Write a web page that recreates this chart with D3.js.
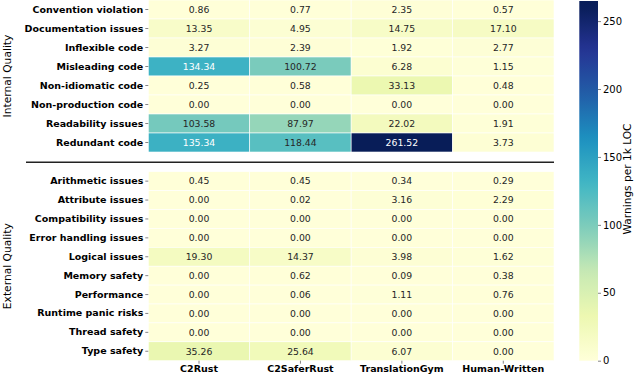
<!DOCTYPE html>
<html><head><meta charset="utf-8">
<script src="https://cdn.jsdelivr.net/npm/d3@7"></script>
<style>body{margin:0;background:#fff}svg{display:block}text{font-family:"DejaVu Sans",sans-serif}</style>
</head><body><svg id="c" width="634" height="375"></svg>
<script>
const tools = ["C2Rust","C2SaferRust","TranslationGym","Human-Written"];
const internalRows = ["Convention violation","Documentation issues","Inflexible code","Misleading code","Non-idiomatic code","Non-production code","Readability issues","Redundant code"];
const internalValues = [
  [0.86,0.77,2.35,0.57],
  [13.35,4.95,14.75,17.10],
  [3.27,2.39,1.92,2.77],
  [134.34,100.72,6.28,1.15],
  [0.25,0.58,33.13,0.48],
  [0.00,0.00,0.00,0.00],
  [103.58,87.97,22.02,1.91],
  [135.34,118.44,261.52,3.73]
];
const externalRows = ["Arithmetic issues","Attribute issues","Compatibility issues","Error handling issues","Logical issues","Memory safety","Performance","Runtime panic risks","Thread safety","Type safety"];
const externalValues = [
  [0.45,0.45,0.34,0.29],
  [0.00,0.02,3.16,2.29],
  [0.00,0.00,0.00,0.00],
  [0.00,0.00,0.00,0.00],
  [19.30,14.37,3.98,1.62],
  [0.00,0.62,0.09,0.38],
  [0.00,0.06,1.11,0.76],
  [0.00,0.00,0.00,0.00],
  [0.00,0.00,0.00,0.00],
  [35.26,25.64,6.07,0.00]
];
const colorbarTicks = [0,50,100,150,200,250];
const groupLabels = ["Internal Quality","External Quality"];
const colorbarLabel = "Warnings per 1k LOC";

const svg = d3.select("#c");
const ylgnbu = ["#ffffd9","#edf8b1","#c7e9b4","#7fcdbb","#41b6c4","#1d91c0","#225ea8","#253494","#081d58"];
const vmax = d3.max([...internalValues, ...externalValues].flat());
const color = d3.scaleLinear().domain(d3.range(9).map(i => i * vmax / 8)).range(ylgnbu).interpolate(d3.interpolateRgb).clamp(true);

function lum(c){
  const r = d3.rgb(c);
  const f = v => { v/=255; return v<=0.03928 ? v/12.92 : Math.pow((v+0.055)/1.055,2.4); };
  return 0.2126*f(r.r)+0.7152*f(r.g)+0.0722*f(r.b);
}

const x = d3.scaleBand().domain(tools).range([148.3, 554]);

function drawBlock(rows, values, y0, y1, label, showX){
  const y = d3.scaleBand().domain(rows).range([y0, y1]);
  const g = svg.append("g");
  rows.forEach((r, i) => {
    tools.forEach((t, j) => {
      const v = values[i][j];
      const c = color(v);
      g.append("rect").attr("x", x(t)).attr("y", y(r)).attr("width", x.bandwidth()).attr("height", y.bandwidth())
        .attr("fill", c).attr("stroke", "#fff").attr("stroke-width", 0.6);
      g.append("text").attr("x", x(t) + x.bandwidth()/2).attr("y", y(r) + y.bandwidth()/2)
        .attr("dy", "0.36em").attr("text-anchor", "middle").attr("font-size", 9.3)
        .attr("fill", lum(c) > 0.408 ? "#262626" : "#fff").text(v.toFixed(2));
    });
  });
  const ax = d3.axisLeft(y).tickSize(3).tickPadding(2);
  const ga = svg.append("g").attr("transform", `translate(${x.range()[0]},0)`).call(ax);
  ga.select(".domain").remove();
  ga.selectAll("line").attr("stroke", "#333").attr("stroke-width", 0.6);
  ga.selectAll("text").attr("font-size", 9.5).attr("font-weight", "bold").attr("fill", "#000").attr("font-family", "DejaVu Sans");
  svg.append("text").attr("transform", `translate(${10.7},${(y0+y1)/2}) rotate(-90)`)
    .attr("text-anchor", "middle").attr("font-size", 10.7).attr("fill", "#000").text(label);
  if (showX){
    const bx = d3.axisBottom(x).tickSize(3).tickPadding(2);
    const gb = svg.append("g").attr("transform", `translate(0,${y1})`).call(bx);
    gb.select(".domain").remove();
    gb.selectAll("line").attr("stroke", "#333").attr("stroke-width", 0.6);
    gb.selectAll("text").attr("font-size", 9.5).attr("font-weight", "bold").attr("fill", "#000").attr("font-family", "DejaVu Sans");
  }
}

drawBlock(internalRows, internalValues, 0, 152, groupLabels[0], false);
drawBlock(externalRows, externalValues, 171.7, 360.7, groupLabels[1], true);

svg.append("line").attr("x1", 26).attr("x2", 554).attr("y1", 162.3).attr("y2", 162.3)
  .attr("stroke", "#222").attr("stroke-width", 1.4);

// colorbar
const cbMax = 264.8;
const cbY = d3.scaleLinear().domain([0, cbMax]).range([360.7, 1]);
const cbX0 = 579.3, cbW = 18.7;
const defs = svg.append("defs");
const grad = defs.append("linearGradient").attr("id", "cbg").attr("x1", 0).attr("x2", 0).attr("y1", 1).attr("y2", 0);
d3.range(0, 41).forEach(i => {
  const v = i/40 * cbMax;
  grad.append("stop").attr("offset", i/40).attr("stop-color", color(v));
});
svg.append("rect").attr("x", cbX0).attr("y", cbY(cbMax)).attr("width", cbW).attr("height", cbY(0) - cbY(cbMax)).attr("fill", "url(#cbg)");
const cba = d3.axisRight(cbY).tickValues(colorbarTicks).tickSize(3).tickPadding(2);
const gc = svg.append("g").attr("transform", `translate(${cbX0 + cbW},0)`).call(cba);
gc.select(".domain").remove();
gc.selectAll("line").attr("stroke", "#333").attr("stroke-width", 0.6);
gc.selectAll("text").attr("font-size", 10).attr("fill", "#000").attr("font-family", "DejaVu Sans");
svg.append("text").attr("transform", `translate(${631},${179}) rotate(-90)`)
  .attr("text-anchor", "middle").attr("font-size", 10.6).attr("fill", "#000").text(colorbarLabel);
</script></body></html>
